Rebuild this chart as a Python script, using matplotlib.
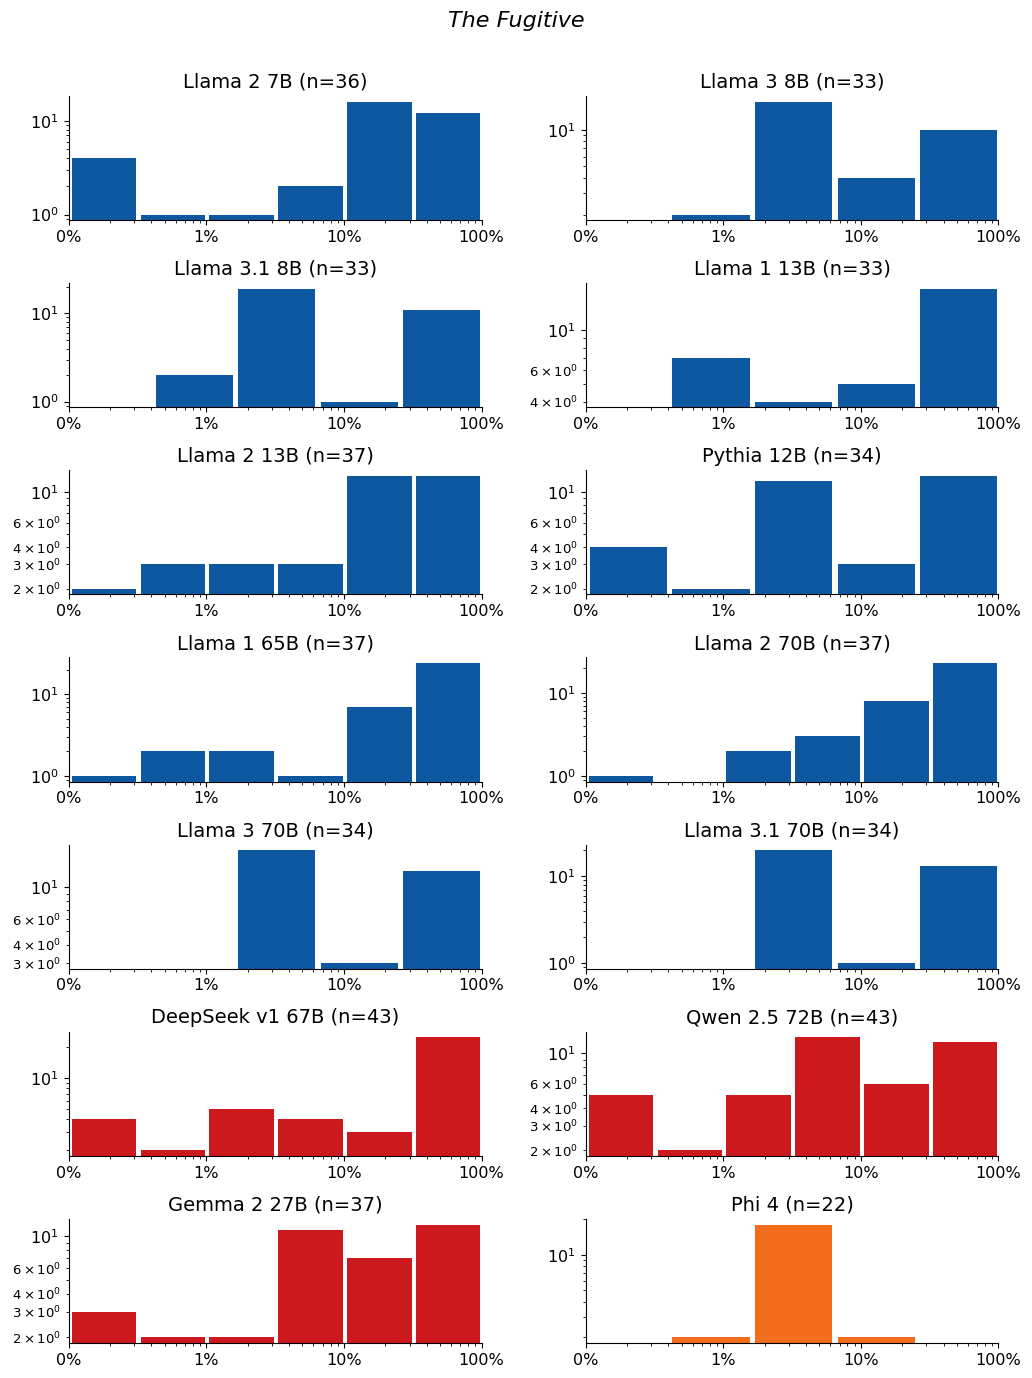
import numpy as np
import matplotlib
matplotlib.use('Agg')
import matplotlib.pyplot as plt

# Histogram counts per model (bins equally spaced in log space from 0% to 100%)
models = ['Llama 2 7B', 'Llama 3 8B', 'Llama 3.1 8B', 'Llama 1 13B',
          'Llama 2 13B', 'Pythia 12B', 'Llama 1 65B', 'Llama 2 70B',
          'Llama 3 70B', 'Llama 3.1 70B', 'DeepSeek v1 67B', 'Qwen 2.5 72B',
          'Gemma 2 27B', 'Phi 4']
sizes = [36, 33, 33, 33, 37, 34, 37, 37, 34, 34, 43, 43, 37, 22]
counts = [
    [4, 1, 1, 2, 16, 12],
    [0, 2, 17, 4, 10],
    [0, 2, 19, 1, 11],
    [0, 7, 4, 5, 17],
    [2, 3, 3, 3, 13, 13],
    [4, 2, 12, 3, 13],
    [1, 2, 2, 1, 7, 24],
    [1, 0, 2, 3, 8, 23],
    [0, 0, 18, 3, 13],
    [0, 0, 20, 1, 13],
    [4, 2, 5, 4, 3, 25],
    [5, 2, 5, 13, 6, 12],
    [3, 2, 2, 11, 7, 12],
    [0, 2, 18, 2, 0],
]
families = ['meta', 'meta', 'meta', 'meta', 'meta', 'meta', 'meta', 'meta',
            'meta', 'meta', 'other', 'other', 'other', 'phi']
family_colors = {'meta': '#0e58a2', 'other': '#cb191e', 'phi': '#f26e1c'}

xticks = [0.1, 1, 10, 100]
xticklabels = ['0%', '1%', '10%', '100%']

fig, axes = plt.subplots(7, 2, figsize=(10.32, 13.78), dpi=100)
fig.subplots_adjust(left=0.0665, right=0.9675, top=0.9303, bottom=0.0254,
                    wspace=0.252, hspace=0.508)
fig.suptitle('The Fugitive', fontsize=16, fontstyle='italic', y=0.992)

for ax, name, n, c, fam in zip(axes.flat, models, sizes, counts, families):
    edges = np.logspace(-1, 2, len(c) + 1)
    centers = np.sqrt(edges[:-1] * edges[1:])
    ax.hist(centers, bins=edges, weights=c, rwidth=0.95, log=True,
            color=family_colors[fam])
    ax.set_xscale('log')
    ax.set_xlim(0.1, 100)
    ax.set_xticks(xticks)
    ax.set_xticklabels(xticklabels)
    ax.set_title(f'{name} (n={n})', fontsize=14)
    ax.spines['top'].set_visible(False)
    ax.spines['right'].set_visible(False)
    ax.tick_params(which='major', labelsize=11.5)
    ax.tick_params(axis='y', which='minor', labelsize=9.5)

fig.savefig('out.png', dpi=100)
